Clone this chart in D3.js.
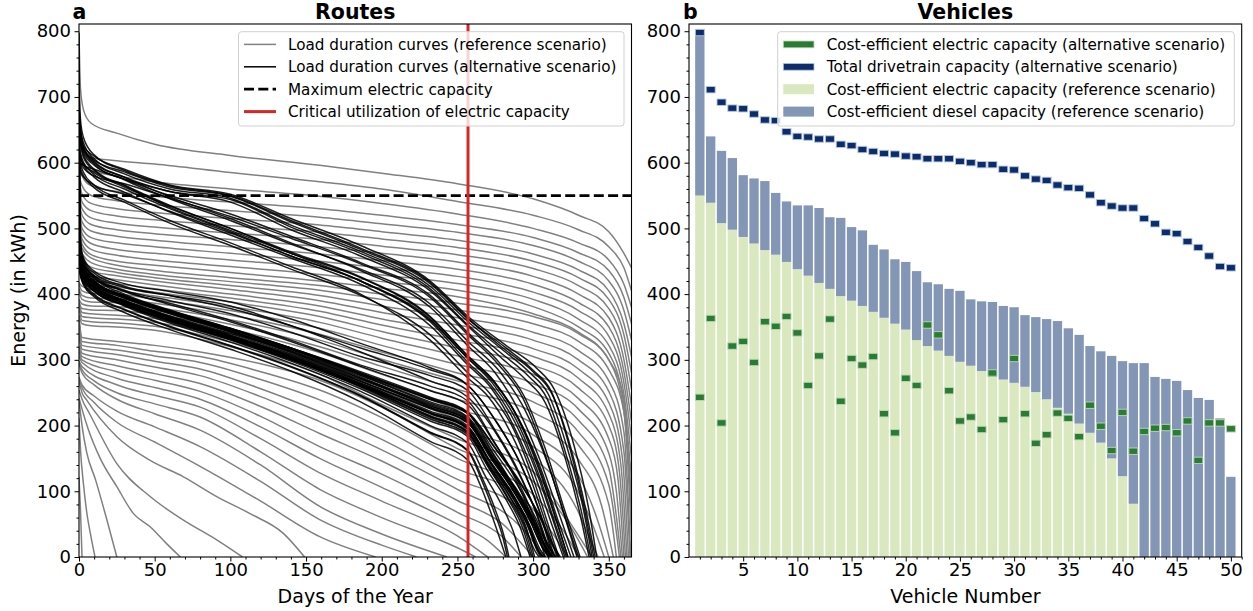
<!DOCTYPE html>
<html><head><meta charset="utf-8">
<script src="https://cdn.jsdelivr.net/npm/d3@7"></script>
<style>body{margin:0;background:#fff} svg text{font-family:"DejaVu Sans",sans-serif;fill:#000}</style>
</head><body><svg id="c" width="1253" height="611"></svg>
<script>
// ---------------- DATA ----------------
const maxElectricCapacity = 550;
const criticalDay = 257;
const dayTicks = [0, 50, 100, 150, 200, 250, 300, 350];
const energyTicks = [0, 100, 200, 300, 400, 500, 600, 700, 800];
const vehicleTicks = [5, 10, 15, 20, 25, 30, 35, 40, 45, 50];

// Load duration curves, reference scenario: [day, kWh] points
const refCurves = [
 [[0,797],[1,712],[3,680],[8,660],[25,645],[50,628],[100,611],[159,596],[200,584],[250,568],[300,545],[330,520],[350,495],[360,462],[365,440]],
 [[0,640],[2,622],[8,608],[25,603],[50,598],[100,585],[159,571],[200,560],[250,541],[300,520],[330,498],[350,472],[360,440],[365,405]],
 [[0,617],[2,600],[8,588],[25,580],[50,571],[100,560],[159,549],[200,538],[250,522],[300,500],[330,478],[350,452],[360,415],[365,380]],
 [[0,607],[2,580],[8,565],[25,556],[50,549],[100,540],[159,530],[200,520],[250,506],[300,486],[330,463],[350,436],[360,395],[365,355]],
 [[0,581],[2,565],[8,550],[25,542],[50,536],[100,527],[159,517],[200,507],[250,494],[300,474],[330,450],[350,420],[360,375],[365,330]],
 [[0,576],[2,552],[8,538],[25,530],[50,524],[100,515],[159,505],[200,495],[250,482],[300,461],[330,437],[350,405],[360,355],[365,305]],
 [[0,572],[2,540],[8,527],[25,519],[50,513],[100,504],[159,494],[200,484],[250,471],[300,450],[330,425],[350,392],[360,338],[365,280]],
 [[0,554],[2,530],[8,516],[25,508],[50,502],[100,493],[159,483],[200,473],[250,460],[300,439],[330,413],[350,378],[360,320],[365,255]],
 [[0,541],[2,520],[8,506],[25,498],[50,492],[100,483],[159,472],[200,462],[250,449],[300,427],[330,400],[350,364],[360,300],[365,230]],
 [[0,535],[2,510],[8,496],[25,488],[50,482],[100,472],[159,461],[200,451],[250,438],[300,415],[330,387],[350,350],[360,282],[365,205]],
 [[0,535],[2,500],[8,486],[25,478],[50,472],[100,462],[159,450],[200,440],[250,427],[300,403],[330,375],[350,336],[360,265],[365,180]],
 [[0,531],[2,492],[8,477],[25,468],[50,462],[100,452],[159,440],[200,429],[250,416],[300,392],[330,362],[350,322],[360,248],[365,150]],
 [[0,517],[2,484],[8,468],[25,459],[50,452],[100,442],[159,430],[200,419],[250,406],[300,381],[330,350],[350,310],[360,232],[365,120]],
 [[0,516],[2,476],[8,460],[25,450],[50,444],[100,433],[159,420],[200,409],[250,396],[300,370],[330,342],[350,300],[360,222],[365,90]],
 [[0,502],[2,470],[8,455],[25,444],[50,436],[100,425],[159,413],[200,400],[250,386],[300,366],[330,340],[350,300],[360,240],[365,60]],
 [[0,497],[2,462],[8,448],[25,438],[50,430],[100,419],[159,406],[200,392],[250,376],[300,355],[330,328],[350,285],[360,220],[365,30]],
 [[0,474],[2,452],[8,441],[25,433],[50,425],[100,413],[159,398],[200,382],[250,364],[300,342],[330,314],[350,268],[360,190],[364.5,0]],
 [[0,468],[2,445],[8,435],[25,428],[50,420],[100,407],[159,390],[200,372],[250,353],[300,330],[330,300],[350,252],[360,160],[364,0]],
 [[0,453],[2,438],[8,428],[25,422],[50,414],[100,400],[159,382],[200,362],[250,341],[300,317],[330,286],[350,235],[359,150],[363,0]],
 [[0,449],[2,430],[8,421],[25,416],[50,408],[100,394],[159,374],[200,353],[250,330],[300,305],[330,272],[350,218],[358,140],[362,0]],
 [[0,435],[2,422],[8,414],[25,411],[50,403],[100,388],[159,366],[200,343],[250,318],[300,292],[330,257],[350,200],[357,130],[361,0]],
 [[0,418],[2,412],[8,407],[25,405],[50,397],[100,381],[159,357],[200,333],[250,306],[300,278],[330,241],[350,180],[356,120],[360,0]],
 [[0,415],[2,405],[8,401],[25,400],[50,392],[100,375],[159,348],[200,322],[250,293],[300,264],[330,225],[350,158],[355,100],[359,0]],
 [[0,408],[2,398],[8,394],[25,393],[50,386],[100,368],[159,339],[200,312],[250,280],[300,250],[330,208],[350,135],[354,80],[358,0]],
 [[0,405],[2,392],[8,388],[25,387],[50,380],[100,361],[159,330],[200,301],[250,268],[300,236],[330,190],[350,110],[357,0]],
 [[0,392],[2,385],[8,382],[25,381],[50,375],[100,354],[159,320],[200,290],[250,255],[300,220],[330,170],[350,80],[355,0]],
 [[0,389],[2,378],[8,376],[25,375],[50,369],[100,347],[159,311],[200,278],[250,240],[300,203],[330,148],[345,80],[353,0]],
 [[0,388],[2,372],[8,370],[25,368],[50,363],[100,340],[159,302],[200,266],[250,225],[300,186],[330,124],[342,60],[350,0]],
 [[0,382],[2,366],[8,364],[25,362],[50,357],[100,334],[159,294],[200,254],[250,210],[300,168],[330,98],[340,45],[347,0]],
 [[0,380],[2,360],[8,358],[25,356],[50,351],[100,327],[159,286],[200,243],[250,195],[300,150],[330,68],[338,25],[343,0]],
 [[0,368],[2,355],[8,352],[25,350],[50,345],[100,320],[159,278],[200,232],[250,180],[300,130],[325,50],[339,0]],
 [[0,365],[2,334],[25,328],[50,322],[80,312],[120,294],[159,269],[200,228],[250,165],[300,115],[325,45],[336,0]],
 [[0,362],[2,328],[25,322],[50,313],[80,305],[120,282],[159,254],[200,212],[250,150],[300,95],[320,40],[330,0]],
 [[0,359],[2,322],[25,315],[50,306],[80,296],[120,270],[159,239],[200,196],[250,134],[290,95],[310,45],[323,0]],
 [[0,348],[2,316],[25,308],[50,298],[80,286],[120,256],[159,221],[200,179],[250,118],[290,75],[305,35],[316,0]],
 [[0,338],[2,310],[25,300],[50,289],[80,276],[120,244],[159,206],[200,163],[250,103],[290,50],[308,0]],
 [[0,321],[2,305],[25,291],[50,279],[80,264],[120,229],[159,188],[200,146],[250,86],[280,50],[300,0]],
 [[0,313],[2,300],[25,282],[50,269],[80,252],[120,214],[159,168],[200,126],[250,68],[280,30],[292,0]],
 [[0,306],[2,296],[25,272],[50,258],[80,240],[120,198],[159,150],[200,106],[250,50],[270,25],[282,0]],
 [[0,298],[2,290],[25,262],[50,246],[80,228],[120,180],[159,128],[200,85],[250,32],[270,0]],
 [[0,295],[2,285],[10,268],[25,250],[50,233],[80,213],[120,160],[159,103],[200,60],[250,14],[262,0]],
 [[0,295],[2,280],[10,262],[25,240],[50,218],[80,193],[120,140],[159,77],[200,35],[243,0]],
 [[0,274],[2,262],[10,245],[25,222],[50,198],[80,168],[120,115],[159,57],[200,18],[223,0]],
 [[0,271],[2,258],[10,235],[25,205],[50,175],[80,138],[120,85],[159,31],[196,0]],
 [[0,268],[2,250],[5,239],[25,183],[47,147],[69,122],[91,92],[113,66],[135,36],[149,0]],
 [[0,254],[2,240],[7,218],[25,142],[47,92],[69,56],[91,26],[108,0]],
 [[0,242],[2,225],[6,195],[14,150],[25,107],[36,66],[47,46],[58,20],[67,0]],
 [[0,239],[2,200],[5,160],[11,117],[18,60],[25,0]],
 [[0,211],[1,163],[3,110],[5,70],[8,30],[10.6,0]],
 [[0,122],[1,70],[2,0]]
];

// Load duration curves, alternative scenario (one per vehicle): [day, kWh]
const altCurves = [
 [[0,798],[1,470],[3,445],[10,428],[30,410],[60,398],[100,382],[140,352],[186,312],[232,268],[257,243],[275,190],[292,120],[305,50],[312,0]],
 [[0,711],[1,665],[3,638],[10,612],[30,588],[60,565],[100,550],[140,512],[186,470],[232,418],[257,363],[280,318],[300,282],[312,250],[325,165],[335,70],[341,0]],
 [[0,692],[1,455],[3,438],[10,420],[30,396],[60,372],[100,343],[140,312],[186,272],[232,228],[257,204],[272,152],[287,100],[298,55],[306,15],[310,0]],
 [[0,683],[1,652],[3,624],[10,602],[30,578],[60,548],[100,515],[140,478],[186,436],[232,380],[257,321],[275,280],[290,225],[305,145],[318,60],[327,0]],
 [[0,682],[1,648],[3,620],[10,598],[30,574],[60,545],[100,512],[140,476],[186,438],[232,385],[257,328],[278,282],[295,222],[310,140],[322,55],[330,0]],
 [[0,674],[1,640],[3,612],[10,590],[30,566],[60,535],[100,500],[140,462],[186,420],[232,358],[257,296],[272,262],[288,205],[302,130],[314,50],[321,0]],
 [[0,665],[1,648],[3,630],[10,606],[30,583],[60,560],[100,546],[140,505],[186,465],[232,412],[257,358],[280,315],[298,280],[310,248],[322,170],[333,75],[339,0]],
 [[0,664],[1,640],[3,622],[10,600],[30,578],[60,556],[100,540],[140,498],[186,458],[232,405],[257,351],[278,305],[295,270],[308,235],[320,160],[331,65],[337,0]],
 [[0,647],[1,635],[3,625],[10,610],[30,590],[60,566],[100,552],[140,515],[186,474],[232,420],[257,366],[282,322],[302,288],[314,255],[327,170],[337,70],[342,0]],
 [[0,640],[1,630],[3,615],[10,596],[30,575],[60,550],[100,522],[140,488],[186,448],[232,398],[257,341],[278,295],[294,245],[308,165],[321,70],[331,0]],
 [[0,639],[1,480],[3,455],[10,435],[30,416],[60,404],[100,388],[140,362],[186,325],[232,288],[257,261],[276,205],[292,140],[305,65],[314,0]],
 [[0,636],[1,625],[3,608],[10,588],[30,565],[60,532],[100,497],[140,462],[186,425],[232,365],[257,306],[274,268],[290,210],[304,132],[316,50],[323,0]],
 [[0,636],[1,628],[3,620],[10,604],[30,586],[60,563],[100,549],[140,510],[186,468],[232,416],[257,362],[281,320],[300,284],[312,252],[324,168],[334,72],[340,0]],
 [[0,628],[1,465],[3,446],[10,426],[30,404],[60,386],[100,360],[140,330],[186,292],[232,260],[257,237],[273,180],[288,120],[300,55],[308,0]],
 [[0,626],[1,615],[3,600],[10,582],[30,560],[60,530],[100,495],[140,458],[186,420],[232,362],[257,302],[273,265],[289,208],[303,130],[315,48],[322,0]],
 [[0,620],[1,610],[3,596],[10,578],[30,555],[60,525],[100,490],[140,455],[186,415],[232,352],[257,292],[272,258],[287,200],[301,125],[313,45],[320,0]],
 [[0,617],[1,606],[3,598],[10,585],[30,563],[60,534],[100,500],[140,464],[186,426],[232,366],[257,305],[274,268],[290,212],[305,135],[317,52],[325,0]],
 [[0,614],[1,460],[3,442],[10,424],[30,400],[60,376],[100,348],[140,318],[186,280],[232,240],[257,218],[273,160],[288,105],[300,55],[309,12],[313,0]],
 [[0,613],[1,450],[3,432],[10,414],[30,390],[60,365],[100,336],[140,304],[186,262],[232,214],[257,189],[270,142],[284,95],[294,50],[301,10],[304,0]],
 [[0,610],[1,598],[3,585],[10,566],[30,543],[60,512],[100,478],[140,442],[186,400],[232,330],[257,272],[270,245],[285,190],[299,115],[310,40],[316,0]],
 [[0,609],[1,470],[3,452],[10,432],[30,412],[60,398],[100,378],[140,352],[186,318],[232,285],[257,261],[275,208],[291,145],[304,70],[313,0]],
 [[0,606],[1,600],[3,596],[10,590],[30,575],[60,556],[100,544],[140,502],[186,462],[232,408],[257,353],[279,310],[297,275],[309,242],[321,162],[332,68],[338,0]],
 [[0,606],[1,600],[3,592],[10,580],[30,568],[60,546],[100,518],[140,485],[186,446],[232,395],[257,338],[277,293],[293,243],[307,162],[320,68],[329,0]],
 [[0,606],[1,475],[3,450],[10,428],[30,406],[60,390],[100,370],[140,342],[186,305],[232,276],[257,253],[274,196],[290,132],[303,60],[311,0]],
 [[0,602],[1,458],[3,440],[10,421],[30,397],[60,373],[100,344],[140,313],[186,274],[232,230],[257,207],[272,154],[287,102],[298,56],[306,15],[311,0]],
 [[0,600],[1,452],[3,437],[10,419],[30,398],[60,374],[100,346],[140,316],[186,277],[232,236],[257,213],[273,158],[288,104],[299,56],[308,14],[312,0]],
 [[0,597],[1,446],[3,430],[10,412],[30,389],[60,363],[100,334],[140,302],[186,262],[232,218],[257,194],[270,145],[285,96],[296,50],[303,10],[306,0]],
 [[0,597],[1,590],[3,580],[10,562],[30,540],[60,508],[100,474],[140,438],[186,398],[232,338],[257,280],[271,250],[287,195],[300,120],[311,42],[317,0]],
 [[0,590],[1,448],[3,434],[10,416],[30,394],[60,370],[100,342],[140,311],[186,272],[232,232],[257,209],[272,156],[288,102],[300,54],[309,12],[313,0]],
 [[0,589],[1,585],[3,578],[10,566],[30,552],[60,526],[100,493],[140,458],[186,420],[232,360],[257,302],[274,266],[290,212],[304,136],[316,52],[323,0]],
 [[0,580],[1,450],[3,436],[10,418],[30,396],[60,373],[100,346],[140,316],[186,278],[232,240],[257,218],[274,162],[290,108],[302,58],[311,14],[315,0]],
 [[0,576],[1,440],[3,425],[10,405],[30,382],[60,356],[100,327],[140,295],[186,252],[232,200],[257,173],[268,125],[279,80],[287,38],[292,0]],
 [[0,573],[1,442],[3,428],[10,409],[30,386],[60,361],[100,332],[140,300],[186,259],[232,210],[257,186],[270,138],[283,90],[293,45],[299,0]],
 [[0,566],[1,446],[3,434],[10,418],[30,398],[60,375],[100,348],[140,318],[186,280],[232,242],[257,219],[275,165],[292,110],[305,60],[314,15],[318,0]],
 [[0,562],[1,444],[3,432],[10,415],[30,394],[60,371],[100,344],[140,314],[186,276],[232,234],[257,211],[272,158],[288,104],[300,56],[309,14],[313,0]],
 [[0,561],[1,438],[3,424],[10,406],[30,384],[60,358],[100,330],[140,298],[186,256],[232,207],[257,183],[269,135],[282,88],[292,42],[298,0]],
 [[0,551],[1,455],[3,440],[10,424],[30,405],[60,384],[100,358],[140,328],[186,290],[232,253],[257,231],[274,175],[290,115],[302,52],[310,0]],
 [[0,539],[1,440],[3,427],[10,410],[30,388],[60,364],[100,336],[140,305],[186,265],[232,222],[257,199],[271,148],[286,98],[297,52],[305,10],[308,0]],
 [[0,534],[1,432],[3,418],[10,400],[30,377],[60,351],[100,322],[140,290],[186,246],[232,190],[257,162],[267,117],[275,72],[281,30],[284,0]],
 [[0,531],[1,446],[3,433],[10,417],[30,396],[60,374],[100,347],[140,318],[186,282],[232,243],[257,220],[275,166],[292,112],[304,62],[313,16],[317,0]],
 [[0,531],[1,430],[3,416],[10,398],[30,376],[60,350],[100,321],[140,289],[186,245],[232,189],[257,161],[266,117],[274,70],[280,30],[283,0]],
 [[0,515],[1,440],[3,426],[10,408],[30,386],[60,361],[100,333],[140,301],[186,260],[232,215],[257,191],[270,142],[284,93],[295,48],[301,0]],
 [[0,507],[1,442],[3,428],[10,410],[30,388],[60,363],[100,335],[140,303],[186,263],[232,219],[257,196],[271,146],[285,96],[296,50],[303,8],[305,0]],
 [[0,494],[1,438],[3,425],[10,409],[30,388],[60,364],[100,336],[140,304],[186,264],[232,220],[257,197],[271,147],[286,97],[297,50],[304,8],[307,0]],
 [[0,492],[1,436],[3,422],[10,405],[30,383],[60,359],[100,331],[140,300],[186,260],[232,213],[257,189],[270,140],[283,92],[294,46],[300,0]],
 [[0,480],[1,440],[3,428],[10,412],[30,391],[60,367],[100,340],[140,309],[186,270],[232,230],[257,207],[273,152],[289,100],[301,52],[309,12],[312,0]],
 [[0,471],[1,428],[3,414],[10,396],[30,372],[60,346],[100,316],[140,283],[186,236],[232,176],[257,147],[265,110],[272,68],[278,28],[282,0]],
 [[0,458],[1,438],[3,426],[10,410],[30,390],[60,366],[100,338],[140,307],[186,268],[232,227],[257,204],[272,150],[288,98],[300,50],[308,10],[311,0]],
 [[0,442],[1,434],[3,424],[10,409],[30,389],[60,365],[100,337],[140,306],[186,267],[232,226],[257,204],[273,152],[290,100],[302,52],[311,12],[315,0]],
 [[0,440],[1,430],[3,420],[10,404],[30,384],[60,360],[100,332],[140,301],[186,262],[232,219],[257,195],[271,146],[286,96],[297,50],[304,8],[307,0]]
];

// Vehicles panel
const vehicles = [1,2,3,4,5,6,7,8,9,10,11,12,13,14,15,16,17,18,19,20,21,22,23,24,25,26,27,28,29,30,31,32,33,34,35,36,37,38,39,40,41,42,43,44,45,46,47,48,49,50];
const refElectric = [550,539,508,498,487,477,467,460,449,438,428,417,408,397,390,382,373,364,355,346,330,321,314,306,297,291,283,274,270,265,259,251,240,227,218,203,189,174,150,123,81,0,0,0,0,0,0,0,0,0];
const refDiesel = [247,101,110,109,94,99,105,94,92,97,107,114,109,119,112,115,102,104,98,103,105,97,101,102,108,101,106,114,112,115,109,114,122,132,130,135,132,139,156,175,214,295,274,271,268,254,242,239,211,122];
const altElectric = [243,363,204,321,328,296,358,351,366,341,261,306,362,237,302,292,305,218,189,272,261,353,338,253,207,213,194,280,209,302,218,173,186,219,211,183,231,199,162,220,161,191,196,197,189,207,147,204,204,195];
const altTotal = [798,711,692,683,682,674,665,664,647,640,639,636,636,628,626,620,617,614,613,610,609,606,606,606,602,600,597,597,590,589,580,575,573,566,562,561,551,539,534,531,531,515,507,494,492,480,471,458,442,440];

const legendLeft = ["Load duration curves (reference scenario)","Load duration curves (alternative scenario)","Maximum electric capacity","Critical utilization of electric capacity"];
const legendRight = ["Cost-efficient electric capacity (alternative scenario)","Total drivetrain capacity (alternative scenario)","Cost-efficient electric capacity (reference scenario)","Cost-efficient diesel capacity (reference scenario)"];

// ---------------- DRAWING ----------------
const C = {gray:"#808080", black:"#000000", red:"#d62728", lightGreen:"#d9e8bf", blueGray:"#8396b5", navy:"#0b2d6b", green:"#2b7b35"};
const TICK_FS = 18, LABEL_FS = 19, LEG_FS = 15.2, TITLE_FS = 20.5;
const svg = d3.select("#c");
const yTop = 24, yBot = 557;
const yE = d3.scaleLinear().domain([0, 811]).range([yBot, yTop]);

// ---- Left panel
const xL = d3.scaleLinear().domain([0, 365]).range([79, 631.5]);
svg.append("clipPath").attr("id","clipL").append("rect")
  .attr("x",79).attr("y",yTop).attr("width",631.5-79).attr("height",yBot-yTop);
const gL = svg.append("g").attr("clip-path","url(#clipL)");
const line = d3.line().x(d=>xL(d[0])).y(d=>yE(d[1])).curve(d3.curveMonotoneX);
gL.selectAll("path.ref").data(refCurves).join("path").attr("class","ref")
  .attr("d", line).attr("fill","none").attr("stroke",C.gray).attr("stroke-width",1.5);
gL.selectAll("path.alt").data(altCurves).join("path").attr("class","alt")
  .attr("d", line).attr("fill","none").attr("stroke",C.black).attr("stroke-opacity",0.88).attr("stroke-width",1.5);
gL.append("line").attr("x1",xL(0)).attr("x2",xL(365)).attr("y1",yE(maxElectricCapacity)).attr("y2",yE(maxElectricCapacity))
  .attr("stroke","#000").attr("stroke-width",2.7).attr("stroke-dasharray","10,4.3");
gL.append("line").attr("x1",xL(criticalDay)).attr("x2",xL(criticalDay)).attr("y1",yTop).attr("y2",yBot)
  .attr("stroke",C.red).attr("stroke-width",3);

function axes(g, x, xTicks, xMinor, y) {
  const ax = g.append("g").attr("transform",`translate(0,${yBot})`)
    .call(d3.axisBottom(x).tickValues(xTicks).tickSize(4.5).tickPadding(1.8).tickFormat(d3.format("d")));
  ax.select(".domain").remove();
  ax.selectAll("text").attr("font-size",TICK_FS).attr("font-family","DejaVu Sans");
  const axm = g.append("g").attr("transform",`translate(0,${yBot})`)
    .call(d3.axisBottom(x).tickValues(xMinor).tickSize(2.5).tickFormat(""));
  axm.select(".domain").remove();
  const x0 = x.range()[0];
  const ay = g.append("g").attr("transform",`translate(${x0},0)`)
    .call(d3.axisLeft(y).tickValues(energyTicks).tickSize(4.5).tickPadding(3.5).tickFormat(d3.format("d")));
  ay.select(".domain").remove();
  ay.selectAll("text").attr("font-size",TICK_FS).attr("font-family","DejaVu Sans");
  const aym = g.append("g").attr("transform",`translate(${x0},0)`)
    .call(d3.axisLeft(y).tickValues(d3.range(20,811,20).filter(v=>v%100!==0)).tickSize(2.5).tickFormat(""));
  aym.select(".domain").remove();
  g.selectAll(".tick line").attr("stroke","#000").attr("stroke-width",1);
}
axes(svg, xL, dayTicks, d3.range(10,366,10).filter(v=>v%50!==0), yE);
svg.append("rect").attr("x",79).attr("y",yTop).attr("width",631.5-79).attr("height",yBot-yTop)
  .attr("fill","none").attr("stroke","#000").attr("stroke-width",1.1);

// legend left
const lgL = svg.append("g");
lgL.append("rect").attr("x",238.5).attr("y",31.7).attr("width",385.5).attr("height",94.3).attr("rx",3)
  .attr("fill","#fff").attr("fill-opacity",0.8).attr("stroke","#d0d0d0").attr("stroke-width",1);
const legStyles = [{c:C.gray,w:1.5,d:null},{c:"#000",w:1.5,d:null},{c:"#000",w:2.7,d:"10,4.3"},{c:C.red,w:3,d:null}];
const rowY = [44.4, 66.8, 89.2, 111.6];
legendLeft.forEach((t,i)=>{
  lgL.append("line").attr("x1",244).attr("x2",276).attr("y1",rowY[i]).attr("y2",rowY[i])
    .attr("stroke",legStyles[i].c).attr("stroke-width",legStyles[i].w).attr("stroke-dasharray",legStyles[i].d);
  lgL.append("text").attr("x",288).attr("y",rowY[i]+5.4).attr("font-size",LEG_FS).text(t);
});

// titles
svg.append("text").attr("x",72.5).attr("y",18.8).attr("font-size",TITLE_FS).attr("font-weight","bold").text("a");
svg.append("text").attr("x",(79+631.5)/2).attr("y",18.8).attr("text-anchor","middle").attr("font-size",TITLE_FS).attr("font-weight","bold").text("Routes");
svg.append("text").attr("x",(79+631.5)/2).attr("y",603).attr("text-anchor","middle").attr("font-size",LABEL_FS).text("Days of the Year");
svg.append("text").attr("transform","translate(25,290.5) rotate(-90)").attr("text-anchor","middle").attr("font-size",LABEL_FS).text("Energy (in kWh)");

// ---- Right panel
const xV = d3.scaleLinear().domain([0, 51]).range([689, 1241.7]);
const bw = 0.86 * (xV(1) - xV(0));
const gR = svg.append("g");
gR.selectAll("rect.el").data(vehicles).join("rect").attr("class","el")
  .attr("x",v=>xV(v)-bw/2).attr("width",bw)
  .attr("y",(v,i)=>yE(refElectric[i])).attr("height",(v,i)=>yE(0)-yE(refElectric[i]))
  .attr("fill",C.lightGreen);
gR.selectAll("rect.di").data(vehicles).join("rect").attr("class","di")
  .attr("x",v=>xV(v)-bw/2).attr("width",bw)
  .attr("y",(v,i)=>yE(refElectric[i]+refDiesel[i])).attr("height",(v,i)=>yE(refElectric[i])-yE(refElectric[i]+refDiesel[i]))
  .attr("fill",C.blueGray);
const mw = 9, mh = 6.4;
gR.selectAll("rect.tot").data(vehicles).join("rect").attr("class","tot")
  .attr("x",v=>xV(v)-mw/2).attr("width",mw).attr("y",(v,i)=>yE(altTotal[i])-mh/2).attr("height",mh)
  .attr("fill",C.navy).attr("stroke","#b9c6de").attr("stroke-width",0.9);
gR.selectAll("rect.ael").data(vehicles).join("rect").attr("class","ael")
  .attr("x",v=>xV(v)-mw/2).attr("width",mw).attr("y",(v,i)=>yE(altElectric[i])-mh/2).attr("height",mh)
  .attr("fill",C.green).attr("stroke","#bcd9b5").attr("stroke-width",0.9);

axes(svg, xV, vehicleTicks, d3.range(1,52,1).filter(v=>v%5!==0), yE);
svg.append("rect").attr("x",689).attr("y",yTop).attr("width",1241.7-689).attr("height",yBot-yTop)
  .attr("fill","none").attr("stroke","#000").attr("stroke-width",1.1);

// legend right
const lgR = svg.append("g");
lgR.append("rect").attr("x",777.7).attr("y",31.7).attr("width",456.6).attr("height",94.3).attr("rx",3)
  .attr("fill","#fff").attr("fill-opacity",0.8).attr("stroke","#d0d0d0").attr("stroke-width",1);
const legR = [{c:C.green,h:6.8,s:"#bcd9b5"},{c:C.navy,h:6.8,s:"#b9c6de"},{c:C.lightGreen,h:10,s:null},{c:C.blueGray,h:10,s:null}];
legendRight.forEach((t,i)=>{
  lgR.append("rect").attr("x",783.3).attr("width",30.7).attr("y",rowY[i]-legR[i].h/2).attr("height",legR[i].h)
    .attr("fill",legR[i].c).attr("stroke",legR[i].s).attr("stroke-width",legR[i].s?0.8:0);
  lgR.append("text").attr("x",826.7).attr("y",rowY[i]+5.4).attr("font-size",LEG_FS).text(t);
});

svg.append("text").attr("x",683).attr("y",18.8).attr("font-size",TITLE_FS).attr("font-weight","bold").text("b");
svg.append("text").attr("x",(689+1241.7)/2).attr("y",18.8).attr("text-anchor","middle").attr("font-size",TITLE_FS).attr("font-weight","bold").text("Vehicles");
svg.append("text").attr("x",(689+1241.7)/2).attr("y",603).attr("text-anchor","middle").attr("font-size",LABEL_FS).text("Vehicle Number");
</script></body></html>
